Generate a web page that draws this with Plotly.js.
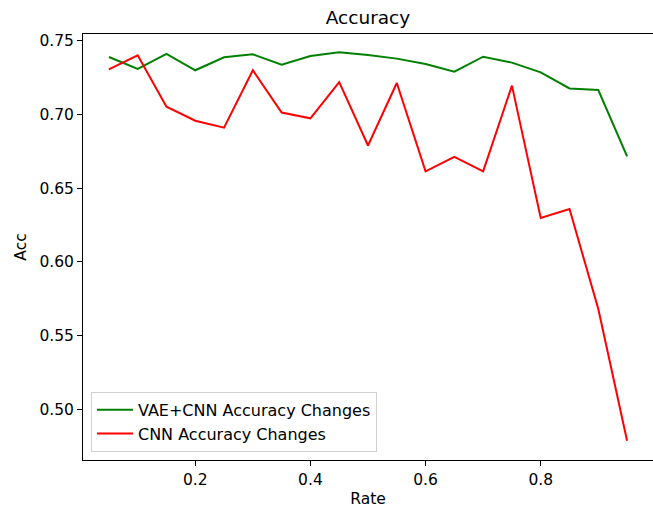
<!DOCTYPE html>
<html>
<head>
<meta charset="utf-8">
<script src="https://cdn.plot.ly/plotly-3.0.1.min.js"></script>
<style>html,body{margin:0;padding:0;background:#fff;}#chart{width:653px;height:508px;}</style>
</head>
<body>
<div id="chart"></div>
<script>
const rates = [0.05,0.10,0.15,0.20,0.25,0.30,0.35,0.40,0.45,0.50,0.55,0.60,0.65,0.70,0.75,0.80,0.85,0.90,0.95];
const vaeCnnAcc = [0.7389,0.7308,0.7410,0.7299,0.7387,0.7407,0.7337,0.7396,0.7421,0.7403,0.7378,0.7342,0.7290,0.7391,0.7351,0.7285,0.7176,0.7165,0.6715];
const cnnAcc = [0.7305,0.7400,0.7052,0.6957,0.6910,0.7299,0.7012,0.6973,0.7219,0.6789,0.7213,0.6613,0.6711,0.6613,0.7195,0.6297,0.6358,0.5680,0.4787];
const seriesNames = ["VAE+CNN Accuracy Changes","CNN Accuracy Changes"];
const xTickVals = [0.2,0.4,0.6,0.8];
const xTickText = ["0.2","0.4","0.6","0.8"];
const yTickVals = [0.50,0.55,0.60,0.65,0.70,0.75];
const yTickText = ["0.50","0.55","0.60","0.65","0.70","0.75"];

const FONT = "DejaVu Sans, Liberation Sans, sans-serif";
const traces = [
  {x: rates, y: vaeCnnAcc, name: seriesNames[0], type: "scatter", mode: "lines",
   line: {color: "#008000", width: 2}},
  {x: rates, y: cnnAcc, name: seriesNames[1], type: "scatter", mode: "lines",
   line: {color: "#ff0000", width: 2}}
];
const axisCommon = {
  showline: true, linecolor: "#000", linewidth: 1, mirror: true,
  showgrid: false, zeroline: false,
  ticks: "outside", ticklen: 5, tickwidth: 1, tickcolor: "#000",
  tickfont: {family: FONT, size: 15.5, color: "#000"}, tickmode: "array"
};
const layout = {
  width: 653, height: 508,
  margin: {l: 83, r: 0, t: 34, b: 48, pad: 0},
  paper_bgcolor: "#fff", plot_bgcolor: "#fff",
  font: {family: FONT, color: "#000"},
  title: {text: "Accuracy", font: {family: FONT, size: 18.5, color: "#000"},
          x: 0.5, xref: "paper", xanchor: "center", y: 1, yref: "paper", yanchor: "bottom", pad: {b: 10}},
  xaxis: Object.assign({}, axisCommon, {
    range: [0.005, 0.995], tickvals: xTickVals, ticktext: xTickText,
    title: {text: "Rate", font: {family: FONT, size: 15.5, color: "#000"}, standoff: 7}
  }),
  yaxis: Object.assign({}, axisCommon, {
    range: [0.4656, 0.7545], tickvals: yTickVals, ticktext: yTickText,
    title: {text: "Acc", font: {family: FONT, size: 15.5, color: "#000"}, standoff: 8}
  }),
  showlegend: true,
  legend: {x: 0.014, y: 0.019, xanchor: "left", yanchor: "bottom",
           bgcolor: "rgba(255,255,255,0.8)", bordercolor: "#d0d0d0", borderwidth: 1,
           font: {family: FONT, size: 16, color: "#000"}, itemwidth: 36, tracegroupgap: 0}
};
Plotly.newPlot("chart", traces, layout, {displayModeBar: false, staticPlot: true});
</script>
</body>
</html>
